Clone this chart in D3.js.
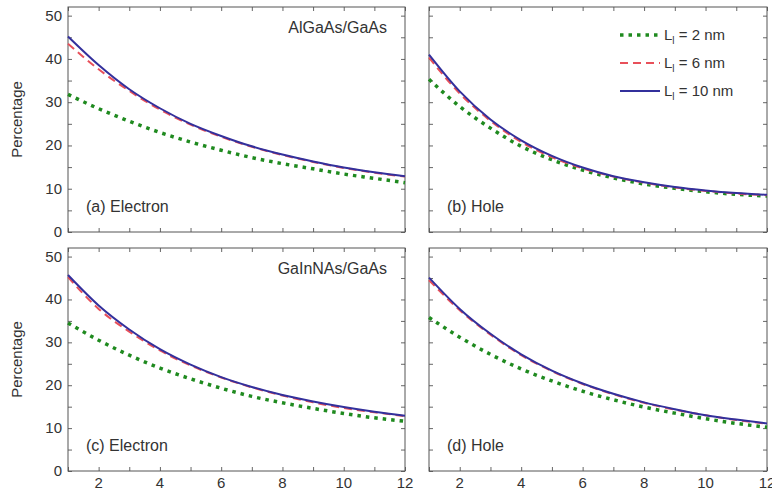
<!DOCTYPE html>
<html>
<head>
<meta charset="utf-8">
<script src="https://cdn.jsdelivr.net/npm/d3@7"></script>
<style>
  body { margin: 0; background: #fff; }
  text { font-family: "Liberation Sans", Arial, sans-serif; fill: #333; }
</style>
</head>
<body>
<script>
// well width / x values
let xs = [1, 2, 3, 4, 5, 6, 7, 8, 9, 10, 11, 12];

// (a) AlGaAs/GaAs electron
let a2  = [31.8, 28.5, 25.6, 23.0, 20.8, 18.9, 17.2, 15.8, 14.6, 13.4, 12.4, 11.4];
let a6  = [43.5, 37.6, 32.6, 28.3, 24.8, 22.0, 19.7, 17.8, 16.2, 14.8, 13.7, 12.8];
let a10 = [45.2, 38.6, 33.0, 28.6, 25.0, 22.2, 19.8, 17.9, 16.3, 14.9, 13.8, 12.9];
// (b) AlGaAs/GaAs hole
let b2  = [35.3, 29.0, 24.0, 19.8, 16.7, 14.3, 12.5, 11.1, 10.1, 9.3, 8.7, 8.3];
let b6  = [40.3, 32.0, 25.7, 20.8, 17.3, 14.7, 12.8, 11.4, 10.3, 9.5, 8.9, 8.5];
let b10 = [41.0, 32.5, 26.0, 21.2, 17.6, 14.9, 12.9, 11.5, 10.4, 9.6, 9.0, 8.6];
// (c) GaInNAs/GaAs electron
let c2  = [34.5, 30.5, 27.0, 24.0, 21.5, 19.3, 17.4, 15.9, 14.6, 13.4, 12.4, 11.6];
let c6  = [45.2, 37.8, 32.5, 28.1, 24.6, 21.8, 19.5, 17.6, 16.0, 14.7, 13.7, 12.8];
let c10 = [45.7, 38.6, 33.0, 28.4, 24.8, 21.9, 19.6, 17.7, 16.2, 14.9, 13.8, 12.9];
// (d) GaInNAs/GaAs hole
let d2  = [35.8, 31.2, 27.2, 23.8, 21.0, 18.6, 16.6, 14.9, 13.5, 12.2, 11.1, 10.2];
let d6  = [44.5, 37.5, 31.8, 27.0, 23.3, 20.3, 17.9, 15.9, 14.3, 13.0, 11.9, 11.0];
let d10 = [45.1, 37.8, 32.0, 27.2, 23.4, 20.4, 18.0, 16.0, 14.4, 13.0, 12.0, 11.1];

let xTicks = [2, 4, 6, 8, 10, 12];
let yTicks = [0, 10, 20, 30, 40, 50];
let seriesNames = ["L = 2 nm", "L = 6 nm", "L = 10 nm"];

let styles = [
	{color: "#1f8a1f", width: 3.5, dash: "3.5,5"},
	{color: "#e8505a", width: 2, dash: "8,5"},
	{color: "#33309c", width: 2, dash: null}
]

let panels = [
	{label: "(a) Electron", data: [a2, a6, a10], col: 0, row: 0, title: "AlGaAs/GaAs"},
	{label: "(b) Hole", data: [b2, b6, b10], col: 1, row: 0, legend: true},
	{label: "(c) Electron", data: [c2, c6, c10], col: 0, row: 1, title: "GaInNAs/GaAs"},
	{label: "(d) Hole", data: [d2, d6, d10], col: 1, row: 1}
]

let cols = [[68, 405], [429, 767]];
let rows = [[7, 232], [248, 471]];

var svg = d3.select("body").append("svg")
	.attr("width", 772)
	.attr("height", 492)

panels.forEach(p => {
	let x = d3.scaleLinear().domain([1, 12]).range(cols[p.col]);
	let y = d3.scaleLinear().domain([0, 52]).range([rows[p.row][1], rows[p.row][0]]);
	let g = svg.append("g");

	let top = rows[p.row][0], bottom = rows[p.row][1];
	let left = cols[p.col][0], right = cols[p.col][1];

	// ticks inward, all four sides
	let xt = d3.range(1, 13), yt = d3.range(0, 52, 5);
	g.append("g").attr("transform", "translate(0," + bottom + ")")
		.call(d3.axisBottom(x).tickValues(xt).tickSizeInner(-4).tickSizeOuter(0).tickFormat(""));
	g.append("g").attr("transform", "translate(0," + top + ")")
		.call(d3.axisTop(x).tickValues(xt).tickSizeInner(-4).tickSizeOuter(0).tickFormat(""));
	g.append("g").attr("transform", "translate(" + left + ",0)")
		.call(d3.axisLeft(y).tickValues(yt).tickSizeInner(-4).tickSizeOuter(0).tickFormat(""));
	g.append("g").attr("transform", "translate(" + right + ",0)")
		.call(d3.axisRight(y).tickValues(yt).tickSizeInner(-4).tickSizeOuter(0).tickFormat(""));
	g.selectAll(".domain").remove();
	g.selectAll(".tick line").attr("stroke", "#666");

	g.append("rect")
		.attr("x", left).attr("y", top)
		.attr("width", right - left).attr("height", bottom - top)
		.attr("fill", "none").attr("stroke", "#555").attr("stroke-width", 1);

	// tick labels
	if (p.col === 0) {
		g.selectAll(".ylab").data(yTicks).join("text")
			.attr("x", left - 6).attr("y", d => y(d) + 5)
			.attr("text-anchor", "end").attr("font-size", 15)
			.text(d => d);
		g.append("text")
			.attr("transform", "translate(22," + ((top + bottom) / 2) + ") rotate(-90)")
			.attr("text-anchor", "middle").attr("font-size", 15)
			.text("Percentage");
	}
	if (p.row === 1) {
		g.selectAll(".xlab").data(xTicks).join("text")
			.attr("x", d => x(d)).attr("y", bottom + 17)
			.attr("text-anchor", "middle").attr("font-size", 15)
			.text(d => d);
	}

	let line = d3.line()
		.x((d, i) => x(xs[i]))
		.y(d => y(d))
		.curve(d3.curveMonotoneX);

	p.data.forEach((s, k) => {
		g.append("path")
			.attr("d", line(s))
			.attr("fill", "none")
			.attr("stroke", styles[k].color)
			.attr("stroke-width", styles[k].width)
			.attr("stroke-dasharray", styles[k].dash);
	})

	g.append("text")
		.attr("x", left + 18).attr("y", bottom - 20)
		.attr("font-size", 16)
		.text(p.label);

	if (p.title) {
		g.append("text")
			.attr("x", right - 18).attr("y", top + 26)
			.attr("text-anchor", "end").attr("font-size", 16)
			.text(p.title);
	}

	if (p.legend) {
		let ly = [35, 63, 91];
		seriesNames.forEach((n, k) => {
			g.append("line")
				.attr("x1", 620).attr("x2", 660)
				.attr("y1", ly[k]).attr("y2", ly[k])
				.attr("stroke", styles[k].color)
				.attr("stroke-width", styles[k].width)
				.attr("stroke-dasharray", styles[k].dash);
			let t = g.append("text")
				.attr("x", 664).attr("y", ly[k] + 5)
				.attr("font-size", 15);
			t.append("tspan").text("L");
			t.append("tspan").attr("font-size", 10).attr("dy", 4).text("l");
			t.append("tspan").attr("dy", -4).text(n.slice(1));
		})
	}
})
</script>
</body>
</html>
